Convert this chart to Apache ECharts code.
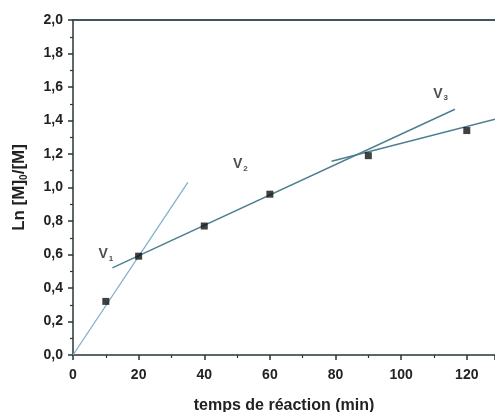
<!DOCTYPE html>
<html><head><meta charset="utf-8">
<script src="https://cdn.jsdelivr.net/npm/echarts@6/dist/echarts.min.js"></script>
<style>html,body{margin:0;padding:0;background:#fff}#c{width:495px;height:412px}</style>
</head><body><div id="c"></div>
<script>
var timeMin = [10, 20, 40, 60, 90, 120];
var lnRatio = [0.32, 0.59, 0.77, 0.96, 1.19, 1.34];
var lineV1 = [[0, 0], [35, 1.03]];
var lineV2 = [[12, 0.52], [116.4, 1.467]];
var lineV3 = [[78.8, 1.157], [128.6, 1.407]];
var labelNames = ['1', '2', '3'];
var labelPos = [[10, 0.60], [51, 1.14], [112, 1.56]];

var font = 'Liberation Sans, Arial, sans-serif';
var chart = echarts.init(document.getElementById('c'));
var pts = timeMin.map(function (t, i) { return [t, lnRatio[i]]; });
var labs = labelPos.map(function (p, i) { return { value: p, name: labelNames[i] }; });
chart.setOption({
  animation: false,
  grid: { left: 73, right: 0, top: 20, bottom: 57, outerBoundsMode: 'none', containLabel: false },
  xAxis: [{
    type: 'value', min: 0, max: 128.6, interval: 20,
    axisLine: { lineStyle: { color: '#2a3438', width: 1.5 } },
    axisTick: { show: true, inside: false, length: 5, lineStyle: { color: '#2a3438', width: 1.5 } },
    minorTick: { show: true, splitNumber: 2, length: 3, lineStyle: { color: '#2a3438', width: 1.2 } },
    splitLine: { show: false },
    axisLabel: { color: '#222', fontFamily: font, fontWeight: 'bold', fontSize: 14, margin: 13,
      formatter: function (v) { return v % 20 === 0 ? String(v) : ''; } },
    name: 'temps de réaction (min)', nameLocation: 'middle', nameGap: 43,
    nameTextStyle: { color: '#222', fontFamily: font, fontWeight: 'bold', fontSize: 16 }
  }, {
    type: 'value', position: 'top', min: 0, max: 128.6,
    axisLine: { show: true, lineStyle: { color: '#3d5560', width: 2 } },
    axisTick: { show: false }, axisLabel: { show: false }, splitLine: { show: false }
  }],
  yAxis: {
    type: 'value', min: 0, max: 2, interval: 0.2,
    axisLine: { show: true, lineStyle: { color: '#2a3438', width: 1.5 } },
    axisTick: { show: true, inside: false, length: 5, lineStyle: { color: '#2a3438', width: 1.5 } },
    minorTick: { show: true, splitNumber: 2, length: 3, lineStyle: { color: '#2a3438', width: 1.2 } },
    splitLine: { show: false },
    axisLabel: { color: '#222', fontFamily: font, fontWeight: 'bold', fontSize: 14, margin: 10,
      formatter: function (v) { return v.toFixed(1).replace('.', ','); } },
    name: '{n|Ln [M]}{s|0}{n|/[M]}', nameLocation: 'middle', nameGap: 44, nameRotate: 90,
    nameTextStyle: { rich: {
      n: { color: '#222', fontFamily: font, fontWeight: 'bold', fontSize: 17 },
      s: { color: '#222', fontFamily: font, fontWeight: 'bold', fontSize: 10, verticalAlign: 'bottom', padding: [9, 0, 0, 0] }
    } }
  },
  series: [
    { type: 'line', data: lineV1, symbol: 'none', lineStyle: { color: '#7fb2c6', width: 1.3 }, z: 2 },
    { type: 'line', data: lineV2, symbol: 'none', lineStyle: { color: '#4d7f90', width: 1.5 }, z: 2 },
    { type: 'line', data: lineV3, symbol: 'none', lineStyle: { color: '#4d7f90', width: 1.5 }, z: 2 },
    { type: 'scatter', data: pts, symbol: 'rect', symbolSize: 7, itemStyle: { color: '#111' }, z: 3 },
    { type: 'scatter', data: labs, symbolSize: 0, silent: true,
      label: { show: true, position: 'inside',
        formatter: function (p) { return '{v|V}{s|' + p.name + '}'; },
        rich: {
          v: { color: '#222', fontFamily: font, fontWeight: 'bold', fontSize: 14 },
          s: { color: '#222', fontFamily: font, fontWeight: 'bold', fontSize: 8, padding: [9, 0, 0, 1] }
        } } }
  ]
});
</script></body></html>
